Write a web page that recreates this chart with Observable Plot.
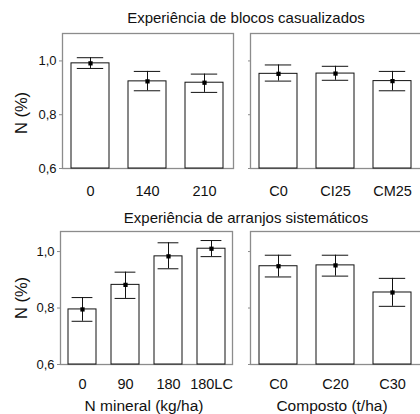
<!DOCTYPE html>
<html>
<head>
<meta charset="utf-8">
<script src="https://cdn.jsdelivr.net/npm/d3@7"></script>
<script src="https://cdn.jsdelivr.net/npm/@observablehq/plot@0.6"></script>
<style>
  html, body { margin: 0; padding: 0; background: #fff; }
  #wrap { position: relative; width: 420px; height: 414px; overflow: hidden; background: #fff;
          font-family: "Liberation Sans", Arial, sans-serif; color: #111; }
  #wrap svg { position: absolute; overflow: visible; }
  .lbl { position: absolute; white-space: nowrap; line-height: 1; }
  .c { transform: translate(-50%, -50%); }
  .rot { transform: translate(-50%, -50%) rotate(-90deg); }
</style>
</head>
<body>
<div id="wrap"></div>
<script>
// ---- data ----
const topLeftCats = ["0", "140", "210"];
const topLeftMean = [0.991, 0.924, 0.919];
const topLeftLo   = [0.972, 0.889, 0.883];
const topLeftHi   = [1.012, 0.961, 0.951];

const topRightCats = ["C0", "CI25", "CM25"];
const topRightMean = [0.952, 0.953, 0.925];
const topRightLo   = [0.925, 0.928, 0.889];
const topRightHi   = [0.985, 0.980, 0.961];

const botLeftCats = ["0", "90", "180", "180LC"];
const botLeftMean = [0.795, 0.882, 0.983, 1.010];
const botLeftLo   = [0.753, 0.834, 0.939, 0.982];
const botLeftHi   = [0.837, 0.927, 1.031, 1.039];

const botRightCats = ["C0", "C20", "C30"];
const botRightMean = [0.948, 0.951, 0.855];
const botRightLo   = [0.910, 0.913, 0.806];
const botRightHi   = [0.987, 0.987, 0.905];

const yTicks = [0.6, 0.8, 1.0];
const topTitle = "Experiência de blocos casualizados";
const botTitle = "Experiência de arranjos sistemáticos";
const yLabel = "N (%)";
const xLabelLeft = "N mineral (kg/ha)";
const xLabelRight = "Composto (t/ha)";

const FONT = '"Liberation Sans", Arial, sans-serif';
const wrap = document.getElementById("wrap");

function rows(cats, mean, lo, hi) {
  return cats.map((k, i) => ({k, m: mean[i], lo: lo[i], hi: hi[i]}));
}

function panel({cats, mean, lo, hi, left, top, width, height, mL, mR, mT, mB, yDomain, showY, xPad, pad, capInset}) {
  const data = rows(cats, mean, lo, hi);
  const svg = Plot.plot({
    width, height,
    marginLeft: mL, marginRight: mR, marginTop: mT, marginBottom: mB,
    style: {fontFamily: FONT, fontSize: "14px", color: "#111", background: "transparent"},
    x: {domain: cats, paddingInner: pad, paddingOuter: pad / 2, label: null},
    y: {domain: yDomain, label: null},
    marks: [
      Plot.frame({stroke: "#8c8c8c", strokeWidth: 1.3}),
      Plot.barY(data, {x: "k", y1: yDomain[0], y2: "m", fill: "white", stroke: "#111", strokeWidth: 1}),
      Plot.ruleX(data, {x: "k", y1: "lo", y2: "hi", stroke: "#111", strokeWidth: 1}),
      Plot.tickY(data, {x: "k", y: "hi", stroke: "#111", strokeWidth: 1, insetLeft: capInset, insetRight: capInset}),
      Plot.tickY(data, {x: "k", y: "lo", stroke: "#111", strokeWidth: 1, insetLeft: capInset, insetRight: capInset}),
      Plot.dot(data, {x: "k", y: "m", symbol: "square", r: 2.4, fill: "#000", stroke: "none"}),
      Plot.axisX({tickSize: 0, tickPadding: xPad, fontSize: 14.5, label: null}),
      showY
        ? Plot.axisY({ticks: yTicks, tickSize: 3, tickPadding: 3, fontSize: 13, stroke: "#8c8c8c",
                      tickFormat: d => d3.format(".1f")(d).replace(".", ","), label: null})
        : Plot.axisY({ticks: yTicks, tickSize: 2, tickFormat: () => "", stroke: "#8c8c8c", label: null})
    ]
  });
  svg.style.left = left + "px";
  svg.style.top = top + "px";
  wrap.appendChild(svg);
}

// top row
panel({cats: topLeftCats, mean: topLeftMean, lo: topLeftLo, hi: topLeftHi,
  left: 0, top: 25, width: 240, height: 175, mL: 62, mR: 7, mT: 8, mB: 32,
  yDomain: [0.6, 1.102], showY: true, xPad: 17, pad: 0.33, capInset: 5.8});
panel({cats: topRightCats, mean: topRightMean, lo: topRightLo, hi: topRightHi,
  left: 240, top: 25, width: 186, height: 175, mL: 10, mR: 5, mT: 8, mB: 32,
  yDomain: [0.6, 1.102], showY: false, xPad: 17, pad: 0.33, capInset: 5.8});

// bottom row
panel({cats: botLeftCats, mean: botLeftMean, lo: botLeftLo, hi: botLeftHi,
  left: 0, top: 222, width: 240, height: 170, mL: 60, mR: 8, mT: 9, mB: 28,
  yDomain: [0.6, 1.071], showY: true, xPad: 14, pad: 0.35, capInset: 3.6});
panel({cats: botRightCats, mean: botRightMean, lo: botRightLo, hi: botRightHi,
  left: 240, top: 222, width: 186, height: 170, mL: 10, mR: 5, mT: 9, mB: 28,
  yDomain: [0.6, 1.071], showY: false, xPad: 14, pad: 0.33, capInset: 5.8});

// texts
function label(text, x, y, size, cls) {
  const d = document.createElement("div");
  d.className = "lbl " + cls;
  d.textContent = text;
  d.style.left = x + "px";
  d.style.top = y + "px";
  d.style.fontSize = size + "px";
  wrap.appendChild(d);
}
label(topTitle, 246, 17, 15, "c");
label(botTitle, 246, 217, 15, "c");
label(yLabel, 21, 113, 16.5, "rot");
label(yLabel, 21, 298, 16.5, "rot");
label(xLabelLeft, 144, 406, 15.5, "c");
label(xLabelRight, 332, 406, 15.5, "c");
</script>
</body>
</html>
